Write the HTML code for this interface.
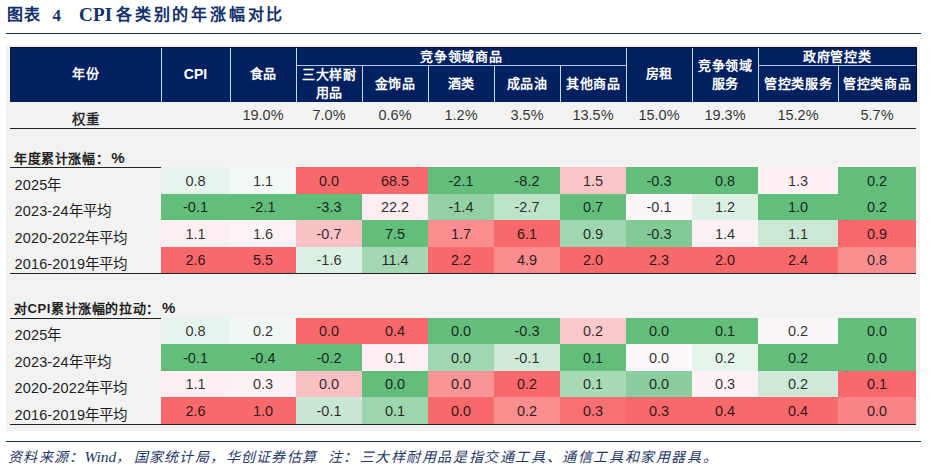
<!DOCTYPE html><html lang="zh-CN"><head><meta charset="utf-8"><style>
*{margin:0;padding:0;box-sizing:border-box}
html,body{width:938px;height:475px;background:#fff;overflow:hidden}
body{position:relative;font-family:"Liberation Sans",sans-serif;color:#1a1a1a}
.a{position:absolute}
.t{position:absolute;white-space:nowrap}
.hd{position:absolute;color:#fff;font-weight:bold;font-size:13px;letter-spacing:0.8px;display:flex;align-items:center;justify-content:center;text-align:center;line-height:18px;padding-bottom:1px;padding-left:0.8px}
.c{position:absolute;display:flex;align-items:center;justify-content:center;font-size:14.5px;color:rgba(0,0,0,0.82);padding-top:0.5px}
.lbl{position:absolute;display:flex;align-items:center;font-size:14.5px;letter-spacing:0.15px;color:#1e1e1e;padding-left:4.5px;padding-top:6px}
.vl{position:absolute;width:1px;background:#c4d8f4}
.ttl{position:absolute;font-family:"Liberation Serif",serif;font-weight:bold;color:#12306a;white-space:nowrap;line-height:20px}
.ft{position:absolute;font-family:"Liberation Serif",serif;font-style:italic;font-weight:300;color:#1f3864;white-space:nowrap;font-size:14px;line-height:17px;top:449px}
</style></head><body>

<div class="ttl" style="left:7px;top:5px;font-size:16px;letter-spacing:1px">图表</div>
<div class="ttl" style="left:52.5px;top:6px;font-size:17px">4</div>
<div class="ttl" style="left:79px;top:4.5px;font-size:19px;letter-spacing:0.2px">CPI</div>
<div class="ttl" style="left:116px;top:5px;font-size:16px;letter-spacing:2.8px">各类别的年涨幅对比</div>
<div class="a" style="left:6px;top:33px;width:915px;height:1px;background:#1a2d52"></div>
<div class="a" style="left:6px;top:45px;width:914px;height:386px;background:#f2f2f2"></div>
<div class="a" style="left:10px;top:47px;width:907px;height:55px;background:#002060;border-top:1px solid #0b0b2a;border-right:1px solid #0b0b2a"></div>
<div class="hd" style="left:10px;top:48px;width:151px;height:54px;padding-bottom:2.5px">年份</div>
<div class="hd" style="left:161px;top:48px;width:69px;height:54px;font-size:14px;letter-spacing:0;padding-left:0;padding-bottom:2px">CPI</div>
<div class="hd" style="left:230px;top:48px;width:66px;height:54px;padding-bottom:2.5px">食品</div>
<div class="hd" style="left:296px;top:48px;width:330px;height:18px;">竞争领域商品</div>
<div class="hd" style="left:296px;top:66px;width:66px;height:36px;">三大样耐<br>用品</div>
<div class="hd" style="left:362px;top:66px;width:66px;height:36px;">金饰品</div>
<div class="hd" style="left:428px;top:66px;width:66px;height:36px;">酒类</div>
<div class="hd" style="left:494px;top:66px;width:66px;height:36px;">成品油</div>
<div class="hd" style="left:560px;top:66px;width:66px;height:36px;">其他商品</div>
<div class="hd" style="left:626px;top:48px;width:66px;height:54px;padding-bottom:2.5px">房租</div>
<div class="hd" style="left:692px;top:48px;width:66px;height:54px;">竞争领域<br>服务</div>
<div class="hd" style="left:758px;top:48px;width:158px;height:18px;">政府管控类</div>
<div class="hd" style="left:758px;top:66px;width:80px;height:36px;">管控类服务</div>
<div class="hd" style="left:838px;top:66px;width:78px;height:36px;">管控类商品</div>
<div class="vl" style="left:161px;top:48px;height:54px"></div>
<div class="vl" style="left:230px;top:48px;height:54px"></div>
<div class="vl" style="left:296px;top:48px;height:54px"></div>
<div class="vl" style="left:362px;top:66px;height:36px"></div>
<div class="vl" style="left:428px;top:66px;height:36px"></div>
<div class="vl" style="left:494px;top:66px;height:36px"></div>
<div class="vl" style="left:560px;top:66px;height:36px"></div>
<div class="vl" style="left:626px;top:48px;height:54px"></div>
<div class="vl" style="left:692px;top:48px;height:54px"></div>
<div class="vl" style="left:758px;top:48px;height:54px"></div>
<div class="vl" style="left:838px;top:66px;height:36px"></div>
<div class="a" style="left:296px;top:65px;width:330px;height:1px;background:#b4c6e7"></div>
<div class="a" style="left:758px;top:65px;width:158px;height:1px;background:#b4c6e7"></div>
<div class="c" style="left:10px;top:104px;width:151px;height:27px;font-weight:bold;font-size:13.5px;letter-spacing:1px;padding-left:1px">权重</div>
<div class="c" style="left:161px;top:101px;width:69px;height:27px"></div>
<div class="c" style="left:230px;top:101px;width:66px;height:27px">19.0%</div>
<div class="c" style="left:296px;top:101px;width:66px;height:27px">7.0%</div>
<div class="c" style="left:362px;top:101px;width:66px;height:27px">0.6%</div>
<div class="c" style="left:428px;top:101px;width:66px;height:27px">1.2%</div>
<div class="c" style="left:494px;top:101px;width:66px;height:27px">3.5%</div>
<div class="c" style="left:560px;top:101px;width:66px;height:27px">13.5%</div>
<div class="c" style="left:626px;top:101px;width:66px;height:27px">15.0%</div>
<div class="c" style="left:692px;top:101px;width:66px;height:27px">19.3%</div>
<div class="c" style="left:758px;top:101px;width:80px;height:27px">15.2%</div>
<div class="c" style="left:838px;top:101px;width:78px;height:27px">5.7%</div>
<div class="a" style="left:10px;top:128px;width:906px;height:1px;background:#222"></div>
<div class="t" style="left:14px;top:150px;font-size:13px;font-weight:bold;color:#1e1e1e;line-height:16px;letter-spacing:0.6px">年度累计涨幅：<span style="font-size:15px;margin-left:2px">%</span></div>
<div class="a" style="left:10px;top:167px;width:151px;height:1px;background:#222"></div>
<div class="lbl" style="left:10px;top:167px;width:151px;height:26.5px">2025年</div>
<div class="c" style="left:161px;top:167px;width:69px;height:26.5px;background:#e6f3ec">0.8</div>
<div class="c" style="left:230px;top:167px;width:66px;height:26.5px;background:#f1f8f5">1.1</div>
<div class="c" style="left:296px;top:167px;width:66px;height:26.5px;background:#f8696b">0.0</div>
<div class="c" style="left:362px;top:167px;width:66px;height:26.5px;background:#f8696b">68.5</div>
<div class="c" style="left:428px;top:167px;width:66px;height:26.5px;background:#63be7b">-2.1</div>
<div class="c" style="left:494px;top:167px;width:66px;height:26.5px;background:#63be7b">-8.2</div>
<div class="c" style="left:560px;top:167px;width:66px;height:26.5px;background:#fac5c8">1.5</div>
<div class="c" style="left:626px;top:167px;width:66px;height:26.5px;background:#63be7b">-0.3</div>
<div class="c" style="left:692px;top:167px;width:66px;height:26.5px;background:#63be7b">0.8</div>
<div class="c" style="left:758px;top:167px;width:80px;height:26.5px;background:#fcf0f3">1.3</div>
<div class="c" style="left:838px;top:167px;width:78px;height:26.5px;background:#63be7b">0.2</div>
<div class="lbl" style="left:10px;top:193.5px;width:151px;height:26.5px">2023-24年平均</div>
<div class="c" style="left:161px;top:193.5px;width:69px;height:26.5px;background:#63be7b">-0.1</div>
<div class="c" style="left:230px;top:193.5px;width:66px;height:26.5px;background:#63be7b">-2.1</div>
<div class="c" style="left:296px;top:193.5px;width:66px;height:26.5px;background:#63be7b">-3.3</div>
<div class="c" style="left:362px;top:193.5px;width:66px;height:26.5px;background:#fcedf0">22.2</div>
<div class="c" style="left:428px;top:193.5px;width:66px;height:26.5px;background:#93d1a4">-1.4</div>
<div class="c" style="left:494px;top:193.5px;width:66px;height:26.5px;background:#bde3c9">-2.7</div>
<div class="c" style="left:560px;top:193.5px;width:66px;height:26.5px;background:#63be7b">0.7</div>
<div class="c" style="left:626px;top:193.5px;width:66px;height:26.5px;background:#fcf6f9">-0.1</div>
<div class="c" style="left:692px;top:193.5px;width:66px;height:26.5px;background:#ddf0e5">1.2</div>
<div class="c" style="left:758px;top:193.5px;width:80px;height:26.5px;background:#63be7b">1.0</div>
<div class="c" style="left:838px;top:193.5px;width:78px;height:26.5px;background:#63be7b">0.2</div>
<div class="lbl" style="left:10px;top:220px;width:151px;height:26.5px">2020-2022年平均</div>
<div class="c" style="left:161px;top:220px;width:69px;height:26.5px;background:#fceff2">1.1</div>
<div class="c" style="left:230px;top:220px;width:66px;height:26.5px;background:#fcf3f6">1.6</div>
<div class="c" style="left:296px;top:220px;width:66px;height:26.5px;background:#fac2c5">-0.7</div>
<div class="c" style="left:362px;top:220px;width:66px;height:26.5px;background:#63be7b">7.5</div>
<div class="c" style="left:428px;top:220px;width:66px;height:26.5px;background:#f98d8f">1.7</div>
<div class="c" style="left:494px;top:220px;width:66px;height:26.5px;background:#f8696b">6.1</div>
<div class="c" style="left:560px;top:220px;width:66px;height:26.5px;background:#a0d7b0">0.9</div>
<div class="c" style="left:626px;top:220px;width:66px;height:26.5px;background:#82ca95">-0.3</div>
<div class="c" style="left:692px;top:220px;width:66px;height:26.5px;background:#fcf2f5">1.4</div>
<div class="c" style="left:758px;top:220px;width:80px;height:26.5px;background:#cbe8d5">1.1</div>
<div class="c" style="left:838px;top:220px;width:78px;height:26.5px;background:#f8696b">0.9</div>
<div class="lbl" style="left:10px;top:246.5px;width:151px;height:26.5px">2016-2019年平均</div>
<div class="c" style="left:161px;top:246.5px;width:69px;height:26.5px;background:#f8696b">2.6</div>
<div class="c" style="left:230px;top:246.5px;width:66px;height:26.5px;background:#f8696b">5.5</div>
<div class="c" style="left:296px;top:246.5px;width:66px;height:26.5px;background:#dcefe3">-1.6</div>
<div class="c" style="left:362px;top:246.5px;width:66px;height:26.5px;background:#a3d8b2">11.4</div>
<div class="c" style="left:428px;top:246.5px;width:66px;height:26.5px;background:#f8696b">2.2</div>
<div class="c" style="left:494px;top:246.5px;width:66px;height:26.5px;background:#f98c8f">4.9</div>
<div class="c" style="left:560px;top:246.5px;width:66px;height:26.5px;background:#f8696b">2.0</div>
<div class="c" style="left:626px;top:246.5px;width:66px;height:26.5px;background:#f8696b">2.3</div>
<div class="c" style="left:692px;top:246.5px;width:66px;height:26.5px;background:#f8696b">2.0</div>
<div class="c" style="left:758px;top:246.5px;width:80px;height:26.5px;background:#f8696b">2.4</div>
<div class="c" style="left:838px;top:246.5px;width:78px;height:26.5px;background:#f98e90">0.8</div>
<div class="a" style="left:10px;top:273px;width:906px;height:1px;background:#222"></div>
<div class="t" style="left:14px;top:300px;font-size:13px;font-weight:bold;color:#1e1e1e;line-height:16px;letter-spacing:0.6px">对CPI累计涨幅的拉动：<span style="font-size:15px;margin-left:2px">%</span></div>
<div class="a" style="left:10px;top:317.5px;width:151px;height:1px;background:#222"></div>
<div class="lbl" style="left:10px;top:317.5px;width:151px;height:26.5px">2025年</div>
<div class="c" style="left:161px;top:317.5px;width:69px;height:26.5px;background:#e6f3ec">0.8</div>
<div class="c" style="left:230px;top:317.5px;width:66px;height:26.5px;background:#f0f7f5">0.2</div>
<div class="c" style="left:296px;top:317.5px;width:66px;height:26.5px;background:#f8696b">0.0</div>
<div class="c" style="left:362px;top:317.5px;width:66px;height:26.5px;background:#f8696b">0.4</div>
<div class="c" style="left:428px;top:317.5px;width:66px;height:26.5px;background:#63be7b">0.0</div>
<div class="c" style="left:494px;top:317.5px;width:66px;height:26.5px;background:#63be7b">-0.3</div>
<div class="c" style="left:560px;top:317.5px;width:66px;height:26.5px;background:#fbc9cb">0.2</div>
<div class="c" style="left:626px;top:317.5px;width:66px;height:26.5px;background:#63be7b">0.0</div>
<div class="c" style="left:692px;top:317.5px;width:66px;height:26.5px;background:#63be7b">0.1</div>
<div class="c" style="left:758px;top:317.5px;width:80px;height:26.5px;background:#fcf6f9">0.2</div>
<div class="c" style="left:838px;top:317.5px;width:78px;height:26.5px;background:#63be7b">0.0</div>
<div class="lbl" style="left:10px;top:344px;width:151px;height:26.5px">2023-24年平均</div>
<div class="c" style="left:161px;top:344px;width:69px;height:26.5px;background:#63be7b">-0.1</div>
<div class="c" style="left:230px;top:344px;width:66px;height:26.5px;background:#63be7b">-0.4</div>
<div class="c" style="left:296px;top:344px;width:66px;height:26.5px;background:#63be7b">-0.2</div>
<div class="c" style="left:362px;top:344px;width:66px;height:26.5px;background:#fcf0f3">0.1</div>
<div class="c" style="left:428px;top:344px;width:66px;height:26.5px;background:#a0d7b0">0.0</div>
<div class="c" style="left:494px;top:344px;width:66px;height:26.5px;background:#cee9d7">-0.1</div>
<div class="c" style="left:560px;top:344px;width:66px;height:26.5px;background:#63be7b">0.1</div>
<div class="c" style="left:626px;top:344px;width:66px;height:26.5px;background:#fcf8fb">0.0</div>
<div class="c" style="left:692px;top:344px;width:66px;height:26.5px;background:#e5f3eb">0.2</div>
<div class="c" style="left:758px;top:344px;width:80px;height:26.5px;background:#63be7b">0.2</div>
<div class="c" style="left:838px;top:344px;width:78px;height:26.5px;background:#63be7b">0.0</div>
<div class="lbl" style="left:10px;top:370.5px;width:151px;height:26.5px">2020-2022年平均</div>
<div class="c" style="left:161px;top:370.5px;width:69px;height:26.5px;background:#fceff2">1.1</div>
<div class="c" style="left:230px;top:370.5px;width:66px;height:26.5px;background:#fcf2f5">0.3</div>
<div class="c" style="left:296px;top:370.5px;width:66px;height:26.5px;background:#fac1c4">0.0</div>
<div class="c" style="left:362px;top:370.5px;width:66px;height:26.5px;background:#63be7b">0.0</div>
<div class="c" style="left:428px;top:370.5px;width:66px;height:26.5px;background:#f99597">0.0</div>
<div class="c" style="left:494px;top:370.5px;width:66px;height:26.5px;background:#f8696b">0.2</div>
<div class="c" style="left:560px;top:370.5px;width:66px;height:26.5px;background:#a8dab6">0.1</div>
<div class="c" style="left:626px;top:370.5px;width:66px;height:26.5px;background:#89ce9c">0.0</div>
<div class="c" style="left:692px;top:370.5px;width:66px;height:26.5px;background:#fcf2f5">0.3</div>
<div class="c" style="left:758px;top:370.5px;width:80px;height:26.5px;background:#cee9d7">0.2</div>
<div class="c" style="left:838px;top:370.5px;width:78px;height:26.5px;background:#f8696b">0.1</div>
<div class="lbl" style="left:10px;top:397px;width:151px;height:26.5px">2016-2019年平均</div>
<div class="c" style="left:161px;top:397px;width:69px;height:26.5px;background:#f8696b">2.6</div>
<div class="c" style="left:230px;top:397px;width:66px;height:26.5px;background:#f8696b">1.0</div>
<div class="c" style="left:296px;top:397px;width:66px;height:26.5px;background:#c9e7d3">-0.1</div>
<div class="c" style="left:362px;top:397px;width:66px;height:26.5px;background:#9dd6ad">0.1</div>
<div class="c" style="left:428px;top:397px;width:66px;height:26.5px;background:#f8696b">0.0</div>
<div class="c" style="left:494px;top:397px;width:66px;height:26.5px;background:#f98e90">0.2</div>
<div class="c" style="left:560px;top:397px;width:66px;height:26.5px;background:#f87072">0.3</div>
<div class="c" style="left:626px;top:397px;width:66px;height:26.5px;background:#f8696b">0.3</div>
<div class="c" style="left:692px;top:397px;width:66px;height:26.5px;background:#f8696b">0.4</div>
<div class="c" style="left:758px;top:397px;width:80px;height:26.5px;background:#f8696b">0.4</div>
<div class="c" style="left:838px;top:397px;width:78px;height:26.5px;background:#f98386">0.0</div>
<div class="a" style="left:10px;top:423.5px;width:906px;height:1px;background:#222"></div>
<div class="a" style="left:6px;top:441px;width:915px;height:1px;background:#1a2d52"></div>
<div class="ft" style="left:8px;letter-spacing:1.3px">资料来源：</div>
<div class="ft" style="left:84.5px;font-size:15.5px;font-weight:400;top:448px">Wind</div>
<div class="ft" style="left:116px;letter-spacing:1.3px">，</div>
<div class="ft" style="left:133.5px;letter-spacing:1.3px">国家统计局，</div>
<div class="ft" style="left:225.5px;letter-spacing:1.3px">华创证券估算</div>
<div class="ft" style="left:327.5px;letter-spacing:1.3px">注：</div>
<div class="ft" style="left:359.5px;letter-spacing:1.6px">三大样耐用品是指交通工具、通信工具和家用器具。</div>
</body></html>
